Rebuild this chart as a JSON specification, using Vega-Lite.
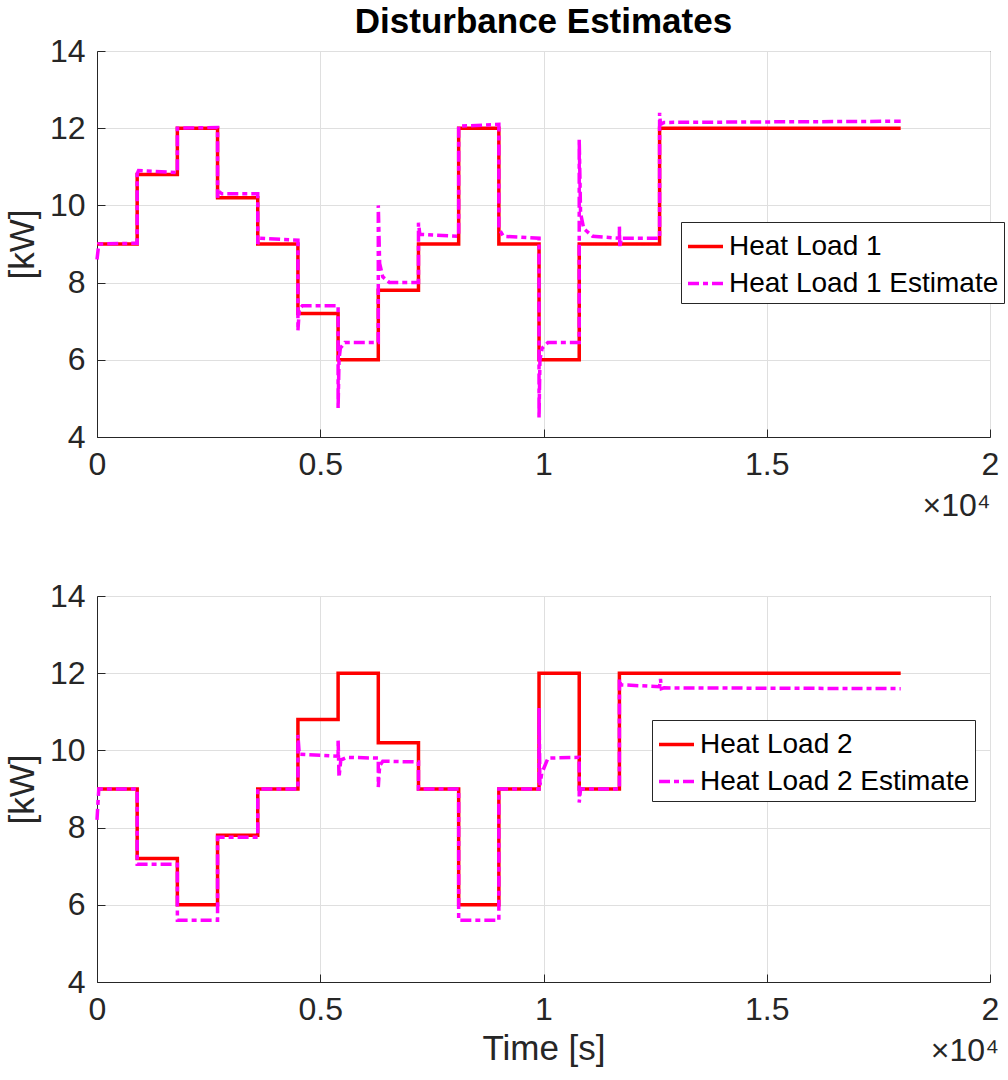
{
  "$schema": "https://vega.github.io/schema/vega-lite/v6.json",
  "background": "white",
  "padding": {"left": 4, "top": 4, "right": 0, "bottom": 0},
  "datasets": {
    "hl1": [
      {"s": "Heat Load 1", "i": 0, "t": 0, "v": 9},
      {"s": "Heat Load 1", "i": 1, "t": 900, "v": 9},
      {"s": "Heat Load 1", "i": 2, "t": 900, "v": 10.8},
      {"s": "Heat Load 1", "i": 3, "t": 1800, "v": 10.8},
      {"s": "Heat Load 1", "i": 4, "t": 1800, "v": 12},
      {"s": "Heat Load 1", "i": 5, "t": 2700, "v": 12},
      {"s": "Heat Load 1", "i": 6, "t": 2700, "v": 10.2},
      {"s": "Heat Load 1", "i": 7, "t": 3600, "v": 10.2},
      {"s": "Heat Load 1", "i": 8, "t": 3600, "v": 9},
      {"s": "Heat Load 1", "i": 9, "t": 4500, "v": 9},
      {"s": "Heat Load 1", "i": 10, "t": 4500, "v": 7.2},
      {"s": "Heat Load 1", "i": 11, "t": 5400, "v": 7.2},
      {"s": "Heat Load 1", "i": 12, "t": 5400, "v": 6},
      {"s": "Heat Load 1", "i": 13, "t": 6300, "v": 6},
      {"s": "Heat Load 1", "i": 14, "t": 6300, "v": 7.8},
      {"s": "Heat Load 1", "i": 15, "t": 7200, "v": 7.8},
      {"s": "Heat Load 1", "i": 16, "t": 7200, "v": 9},
      {"s": "Heat Load 1", "i": 17, "t": 8100, "v": 9},
      {"s": "Heat Load 1", "i": 18, "t": 8100, "v": 12},
      {"s": "Heat Load 1", "i": 19, "t": 9000, "v": 12},
      {"s": "Heat Load 1", "i": 20, "t": 9000, "v": 9},
      {"s": "Heat Load 1", "i": 21, "t": 9900, "v": 9},
      {"s": "Heat Load 1", "i": 22, "t": 9900, "v": 6},
      {"s": "Heat Load 1", "i": 23, "t": 10800, "v": 6},
      {"s": "Heat Load 1", "i": 24, "t": 10800, "v": 9},
      {"s": "Heat Load 1", "i": 25, "t": 12600, "v": 9},
      {"s": "Heat Load 1", "i": 26, "t": 12600, "v": 12},
      {"s": "Heat Load 1", "i": 27, "t": 18000, "v": 12},
      {"s": "Heat Load 1 Estimate", "i": 0, "t": 0, "v": 8.6},
      {"s": "Heat Load 1 Estimate", "i": 1, "t": 40, "v": 9.0},
      {"s": "Heat Load 1 Estimate", "i": 2, "t": 900, "v": 9.02},
      {"s": "Heat Load 1 Estimate", "i": 3, "t": 900, "v": 10.82},
      {"s": "Heat Load 1 Estimate", "i": 4, "t": 930, "v": 10.9},
      {"s": "Heat Load 1 Estimate", "i": 5, "t": 1800, "v": 10.85},
      {"s": "Heat Load 1 Estimate", "i": 6, "t": 1800, "v": 12.0},
      {"s": "Heat Load 1 Estimate", "i": 7, "t": 2700, "v": 12.02},
      {"s": "Heat Load 1 Estimate", "i": 8, "t": 2700, "v": 10.2},
      {"s": "Heat Load 1 Estimate", "i": 9, "t": 2730, "v": 10.36},
      {"s": "Heat Load 1 Estimate", "i": 10, "t": 2800, "v": 10.3},
      {"s": "Heat Load 1 Estimate", "i": 11, "t": 3600, "v": 10.3},
      {"s": "Heat Load 1 Estimate", "i": 12, "t": 3600, "v": 9.0},
      {"s": "Heat Load 1 Estimate", "i": 13, "t": 3650, "v": 9.15},
      {"s": "Heat Load 1 Estimate", "i": 14, "t": 4500, "v": 9.1},
      {"s": "Heat Load 1 Estimate", "i": 15, "t": 4500, "v": 6.75},
      {"s": "Heat Load 1 Estimate", "i": 16, "t": 4530, "v": 7.3},
      {"s": "Heat Load 1 Estimate", "i": 17, "t": 4600, "v": 7.4},
      {"s": "Heat Load 1 Estimate", "i": 18, "t": 5400, "v": 7.4},
      {"s": "Heat Load 1 Estimate", "i": 19, "t": 5400, "v": 4.75},
      {"s": "Heat Load 1 Estimate", "i": 20, "t": 5420, "v": 6.0},
      {"s": "Heat Load 1 Estimate", "i": 21, "t": 5450, "v": 6.3},
      {"s": "Heat Load 1 Estimate", "i": 22, "t": 5550, "v": 6.45},
      {"s": "Heat Load 1 Estimate", "i": 23, "t": 6300, "v": 6.45},
      {"s": "Heat Load 1 Estimate", "i": 24, "t": 6300, "v": 10.0},
      {"s": "Heat Load 1 Estimate", "i": 25, "t": 6330, "v": 8.5},
      {"s": "Heat Load 1 Estimate", "i": 26, "t": 6400, "v": 8.15},
      {"s": "Heat Load 1 Estimate", "i": 27, "t": 6550, "v": 8.0},
      {"s": "Heat Load 1 Estimate", "i": 28, "t": 7200, "v": 8.0},
      {"s": "Heat Load 1 Estimate", "i": 29, "t": 7200, "v": 9.55},
      {"s": "Heat Load 1 Estimate", "i": 30, "t": 7230, "v": 9.25},
      {"s": "Heat Load 1 Estimate", "i": 31, "t": 8100, "v": 9.2},
      {"s": "Heat Load 1 Estimate", "i": 32, "t": 8100, "v": 12.05},
      {"s": "Heat Load 1 Estimate", "i": 33, "t": 9000, "v": 12.1},
      {"s": "Heat Load 1 Estimate", "i": 34, "t": 9000, "v": 9.4},
      {"s": "Heat Load 1 Estimate", "i": 35, "t": 9100, "v": 9.2},
      {"s": "Heat Load 1 Estimate", "i": 36, "t": 9900, "v": 9.15},
      {"s": "Heat Load 1 Estimate", "i": 37, "t": 9900, "v": 4.5},
      {"s": "Heat Load 1 Estimate", "i": 38, "t": 9920, "v": 6.0},
      {"s": "Heat Load 1 Estimate", "i": 39, "t": 9970, "v": 6.3},
      {"s": "Heat Load 1 Estimate", "i": 40, "t": 10100, "v": 6.45},
      {"s": "Heat Load 1 Estimate", "i": 41, "t": 10800, "v": 6.45},
      {"s": "Heat Load 1 Estimate", "i": 42, "t": 10800, "v": 11.7},
      {"s": "Heat Load 1 Estimate", "i": 43, "t": 10830, "v": 9.8},
      {"s": "Heat Load 1 Estimate", "i": 44, "t": 10900, "v": 9.4},
      {"s": "Heat Load 1 Estimate", "i": 45, "t": 11100, "v": 9.2},
      {"s": "Heat Load 1 Estimate", "i": 46, "t": 11700, "v": 9.15},
      {"s": "Heat Load 1 Estimate", "i": 47, "t": 11700, "v": 9.45},
      {"s": "Heat Load 1 Estimate", "i": 48, "t": 11710, "v": 8.9},
      {"s": "Heat Load 1 Estimate", "i": 49, "t": 11740, "v": 9.15},
      {"s": "Heat Load 1 Estimate", "i": 50, "t": 12600, "v": 9.15},
      {"s": "Heat Load 1 Estimate", "i": 51, "t": 12600, "v": 12.4},
      {"s": "Heat Load 1 Estimate", "i": 52, "t": 12620, "v": 12.1},
      {"s": "Heat Load 1 Estimate", "i": 53, "t": 12700, "v": 12.15},
      {"s": "Heat Load 1 Estimate", "i": 54, "t": 18000, "v": 12.18}
    ],
    "hl2": [
      {"s": "Heat Load 2", "i": 0, "t": 0, "v": 9},
      {"s": "Heat Load 2", "i": 1, "t": 900, "v": 9},
      {"s": "Heat Load 2", "i": 2, "t": 900, "v": 7.2},
      {"s": "Heat Load 2", "i": 3, "t": 1800, "v": 7.2},
      {"s": "Heat Load 2", "i": 4, "t": 1800, "v": 6},
      {"s": "Heat Load 2", "i": 5, "t": 2700, "v": 6},
      {"s": "Heat Load 2", "i": 6, "t": 2700, "v": 7.8},
      {"s": "Heat Load 2", "i": 7, "t": 3600, "v": 7.8},
      {"s": "Heat Load 2", "i": 8, "t": 3600, "v": 9},
      {"s": "Heat Load 2", "i": 9, "t": 4500, "v": 9},
      {"s": "Heat Load 2", "i": 10, "t": 4500, "v": 10.8},
      {"s": "Heat Load 2", "i": 11, "t": 5400, "v": 10.8},
      {"s": "Heat Load 2", "i": 12, "t": 5400, "v": 12},
      {"s": "Heat Load 2", "i": 13, "t": 6300, "v": 12},
      {"s": "Heat Load 2", "i": 14, "t": 6300, "v": 10.2},
      {"s": "Heat Load 2", "i": 15, "t": 7200, "v": 10.2},
      {"s": "Heat Load 2", "i": 16, "t": 7200, "v": 9},
      {"s": "Heat Load 2", "i": 17, "t": 8100, "v": 9},
      {"s": "Heat Load 2", "i": 18, "t": 8100, "v": 6},
      {"s": "Heat Load 2", "i": 19, "t": 9000, "v": 6},
      {"s": "Heat Load 2", "i": 20, "t": 9000, "v": 9},
      {"s": "Heat Load 2", "i": 21, "t": 9900, "v": 9},
      {"s": "Heat Load 2", "i": 22, "t": 9900, "v": 12},
      {"s": "Heat Load 2", "i": 23, "t": 10800, "v": 12},
      {"s": "Heat Load 2", "i": 24, "t": 10800, "v": 9},
      {"s": "Heat Load 2", "i": 25, "t": 11700, "v": 9},
      {"s": "Heat Load 2", "i": 26, "t": 11700, "v": 12},
      {"s": "Heat Load 2", "i": 27, "t": 18000, "v": 12},
      {"s": "Heat Load 2 Estimate", "i": 0, "t": 0, "v": 8.2},
      {"s": "Heat Load 2 Estimate", "i": 1, "t": 40, "v": 9.0},
      {"s": "Heat Load 2 Estimate", "i": 2, "t": 900, "v": 9.0},
      {"s": "Heat Load 2 Estimate", "i": 3, "t": 900, "v": 7.05},
      {"s": "Heat Load 2 Estimate", "i": 4, "t": 1800, "v": 7.05},
      {"s": "Heat Load 2 Estimate", "i": 5, "t": 1800, "v": 5.6},
      {"s": "Heat Load 2 Estimate", "i": 6, "t": 2700, "v": 5.6},
      {"s": "Heat Load 2 Estimate", "i": 7, "t": 2700, "v": 7.75},
      {"s": "Heat Load 2 Estimate", "i": 8, "t": 3600, "v": 7.75},
      {"s": "Heat Load 2 Estimate", "i": 9, "t": 3600, "v": 9.0},
      {"s": "Heat Load 2 Estimate", "i": 10, "t": 4500, "v": 9.0},
      {"s": "Heat Load 2 Estimate", "i": 11, "t": 4500, "v": 10.4},
      {"s": "Heat Load 2 Estimate", "i": 12, "t": 4530, "v": 9.9},
      {"s": "Heat Load 2 Estimate", "i": 13, "t": 5400, "v": 9.85},
      {"s": "Heat Load 2 Estimate", "i": 14, "t": 5400, "v": 10.3},
      {"s": "Heat Load 2 Estimate", "i": 15, "t": 5420, "v": 9.3},
      {"s": "Heat Load 2 Estimate", "i": 16, "t": 5460, "v": 9.75},
      {"s": "Heat Load 2 Estimate", "i": 17, "t": 5600, "v": 9.82},
      {"s": "Heat Load 2 Estimate", "i": 18, "t": 6300, "v": 9.8},
      {"s": "Heat Load 2 Estimate", "i": 19, "t": 6300, "v": 9.05},
      {"s": "Heat Load 2 Estimate", "i": 20, "t": 6330, "v": 9.6},
      {"s": "Heat Load 2 Estimate", "i": 21, "t": 6400, "v": 9.72},
      {"s": "Heat Load 2 Estimate", "i": 22, "t": 7200, "v": 9.7},
      {"s": "Heat Load 2 Estimate", "i": 23, "t": 7200, "v": 9.0},
      {"s": "Heat Load 2 Estimate", "i": 24, "t": 8100, "v": 9.0},
      {"s": "Heat Load 2 Estimate", "i": 25, "t": 8100, "v": 5.6},
      {"s": "Heat Load 2 Estimate", "i": 26, "t": 9000, "v": 5.6},
      {"s": "Heat Load 2 Estimate", "i": 27, "t": 9000, "v": 9.0},
      {"s": "Heat Load 2 Estimate", "i": 28, "t": 9900, "v": 9.0},
      {"s": "Heat Load 2 Estimate", "i": 29, "t": 9900, "v": 11.1},
      {"s": "Heat Load 2 Estimate", "i": 30, "t": 9920, "v": 9.1},
      {"s": "Heat Load 2 Estimate", "i": 31, "t": 9960, "v": 9.4},
      {"s": "Heat Load 2 Estimate", "i": 32, "t": 10100, "v": 9.8},
      {"s": "Heat Load 2 Estimate", "i": 33, "t": 10800, "v": 9.82},
      {"s": "Heat Load 2 Estimate", "i": 34, "t": 10800, "v": 8.65},
      {"s": "Heat Load 2 Estimate", "i": 35, "t": 10830, "v": 9.0},
      {"s": "Heat Load 2 Estimate", "i": 36, "t": 11700, "v": 9.0},
      {"s": "Heat Load 2 Estimate", "i": 37, "t": 11700, "v": 11.85},
      {"s": "Heat Load 2 Estimate", "i": 38, "t": 11730, "v": 11.7},
      {"s": "Heat Load 2 Estimate", "i": 39, "t": 12600, "v": 11.65},
      {"s": "Heat Load 2 Estimate", "i": 40, "t": 12620, "v": 11.85},
      {"s": "Heat Load 2 Estimate", "i": 41, "t": 12640, "v": 11.6},
      {"s": "Heat Load 2 Estimate", "i": 42, "t": 12700, "v": 11.62},
      {"s": "Heat Load 2 Estimate", "i": 43, "t": 18000, "v": 11.6}
    ]
  },
  "spacing": 57,
  "resolve": {
    "scale": {"color": "independent", "strokeDash": "independent"},
    "legend": {"color": "independent", "strokeDash": "independent"}
  },
  "vconcat": [
    {
      "width": 893,
      "height": 386,
      "title": {"text": "Disturbance Estimates", "fontSize": 35, "font": "Liberation Sans", "fontWeight": "bold", "color": "#000000", "anchor": "middle", "offset": -5},
      "data": {"name": "hl1"},
      "mark": {"type": "line", "strokeWidth": 3.5},
      "encoding": {
        "x": {"field": "t", "type": "quantitative", "scale": {"domain": [0, 20000], "nice": false, "zero": false},
              "axis": {"values": [0, 5000, 10000, 15000, 20000], "labelExpr": "datum.value / 10000", "title": "×10⁴", "titleAnchor": "end", "titleFontSize": 32, "titlePadding": 10}},
        "y": {"field": "v", "type": "quantitative", "scale": {"domain": [4, 14], "nice": false, "zero": false},
              "axis": {"values": [4, 6, 8, 10, 12, 14], "title": "[kW]"}},
        "color": {"field": "s", "type": "nominal", "scale": {"domain": ["Heat Load 1", "Heat Load 1 Estimate"], "range": ["#ff0000", "#ff00ff"]},
                  "legend": {"orient": "none", "legendX": 584, "legendY": 171, "title": null, "symbolType": "stroke", "symbolSize": 1225, "symbolStrokeWidth": 3.5, "labelFontSize": 28, "labelFont": "Liberation Sans", "labelColor": "#000000", "labelLimit": 600, "padding": 5, "strokeColor": "#262626", "fillColor": "white", "rowPadding": 3, "labelOffset": 4}},
        "strokeDash": {"field": "s", "type": "nominal", "scale": {"domain": ["Heat Load 1", "Heat Load 1 Estimate"], "range": [[1, 0], [11, 4, 5, 4]]},
                  "legend": {"orient": "none", "legendX": 584, "legendY": 171, "title": null, "symbolType": "stroke", "symbolSize": 1225, "symbolStrokeWidth": 3.5, "labelFontSize": 28, "labelFont": "Liberation Sans", "labelColor": "#000000", "labelLimit": 600, "padding": 5, "strokeColor": "#262626", "fillColor": "white", "rowPadding": 3, "labelOffset": 4}},
        "order": {"field": "i", "type": "quantitative"}
      }
    },
    {
      "width": 893,
      "height": 386,
      "title": {"text": "×10⁴", "orient": "bottom", "anchor": "end", "fontSize": 32, "font": "Liberation Sans", "fontWeight": "normal", "color": "#262626", "offset": -30},
      "data": {"name": "hl2"},
      "mark": {"type": "line", "strokeWidth": 3.5},
      "encoding": {
        "x": {"field": "t", "type": "quantitative", "scale": {"domain": [0, 20000], "nice": false, "zero": false},
              "axis": {"values": [0, 5000, 10000, 15000, 20000], "labelExpr": "datum.value / 10000", "title": "Time [s]", "titlePadding": 6}},
        "y": {"field": "v", "type": "quantitative", "scale": {"domain": [4, 14], "nice": false, "zero": false},
              "axis": {"values": [4, 6, 8, 10, 12, 14], "title": "[kW]"}},
        "color": {"field": "s", "type": "nominal", "scale": {"domain": ["Heat Load 2", "Heat Load 2 Estimate"], "range": ["#ff0000", "#ff00ff"]},
                  "legend": {"orient": "none", "legendX": 555, "legendY": 124, "title": null, "symbolType": "stroke", "symbolSize": 1225, "symbolStrokeWidth": 3.5, "labelFontSize": 28, "labelFont": "Liberation Sans", "labelColor": "#000000", "labelLimit": 600, "padding": 5, "strokeColor": "#262626", "fillColor": "white", "rowPadding": 3, "labelOffset": 4}},
        "strokeDash": {"field": "s", "type": "nominal", "scale": {"domain": ["Heat Load 2", "Heat Load 2 Estimate"], "range": [[1, 0], [11, 4, 5, 4]]},
                  "legend": {"orient": "none", "legendX": 555, "legendY": 124, "title": null, "symbolType": "stroke", "symbolSize": 1225, "symbolStrokeWidth": 3.5, "labelFontSize": 28, "labelFont": "Liberation Sans", "labelColor": "#000000", "labelLimit": 600, "padding": 5, "strokeColor": "#262626", "fillColor": "white", "rowPadding": 3, "labelOffset": 4}},
        "order": {"field": "i", "type": "quantitative"}
      }
    }
  ],
  "config": {
    "font": "Liberation Sans",
    "view": {"stroke": "#262626", "strokeWidth": 1},
    "axis": {
      "grid": true,
      "gridColor": "#dfdfdf",
      "gridWidth": 1,
      "domainColor": "#262626",
      "domainWidth": 1,
      "tickColor": "#262626",
      "tickSize": -8,
      "labelPadding": 20,
      "labelFont": "Liberation Sans",
      "labelFontSize": 32,
      "labelColor": "#262626",
      "titleFont": "Liberation Sans",
      "titleFontSize": 35,
      "titleFontWeight": "normal",
      "titleColor": "#262626"
    },
    "axisY": {"titlePadding": 9},
    "axisX": {"labelFlush": false}
  }
}
